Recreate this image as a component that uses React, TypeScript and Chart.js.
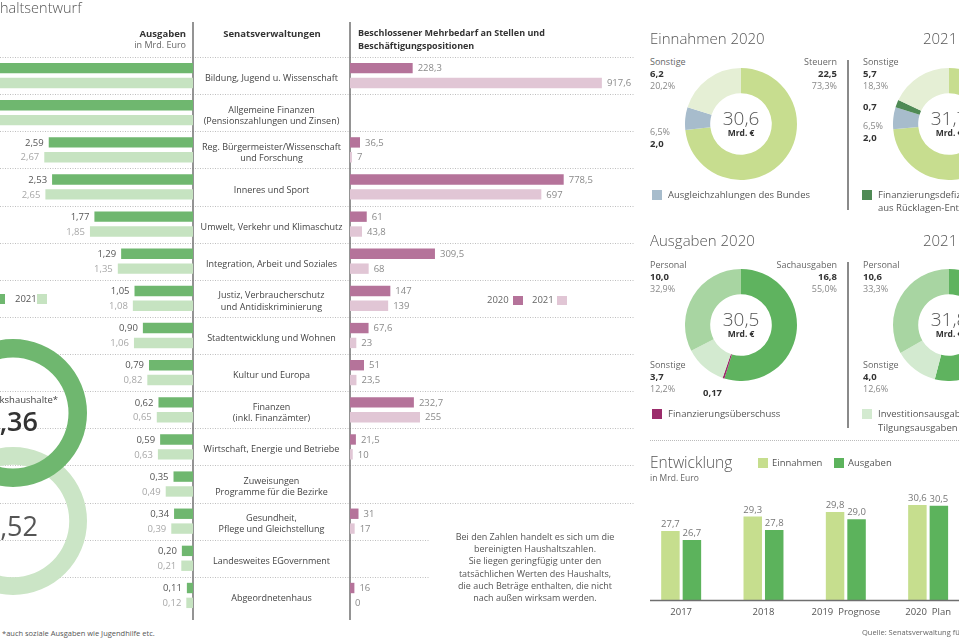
import React, { useEffect, useRef } from "react";
import { Chart, registerables } from "chart.js";

Chart.register(...registerables);

const FONT = "'Open Sans', 'Noto Sans', 'DejaVu Sans', sans-serif";

// ---------------- data ----------------
const departments = [
  ["Bildung, Jugend u. Wissenschaft"],
  ["Allgemeine Finanzen", "(Pensionszahlungen und Zinsen)"],
  ["Reg. Bürgermeister/Wissenschaft", "und Forschung"],
  ["Inneres und Sport"],
  ["Umwelt, Verkehr und Klimaschutz"],
  ["Integration, Arbeit und Soziales"],
  ["Justiz, Verbraucherschutz", "und Antidiskriminierung"],
  ["Stadtentwicklung und Wohnen"],
  ["Kultur und Europa"],
  ["Finanzen", "(inkl. Finanzämter)"],
  ["Wirtschaft, Energie und Betriebe"],
  ["Zuweisungen", "Programme für die Bezirke"],
  ["Gesundheit,", "Pflege und Gleichstellung"],
  ["Landesweites EGovernment"],
  ["Abgeordnetenhaus"],
];
const ausgaben2020 = [4.32, 3.86, 2.59, 2.53, 1.77, 1.29, 1.05, 0.9, 0.79, 0.62, 0.59, 0.35, 0.34, 0.2, 0.11];
const ausgaben2021 = [4.58, 3.95, 2.67, 2.65, 1.85, 1.35, 1.08, 1.06, 0.82, 0.65, 0.63, 0.49, 0.39, 0.21, 0.12];
const stellen2020 = [228.3, null, 36.5, 778.5, 61, 309.5, 147, 67.6, 51, 232.7, 21.5, null, 31, null, 16];
const stellen2021 = [917.6, null, 7, 697, 43.8, 68, 139, 23, 23.5, 255, 10, null, 17, null, 0];

const bezirke2020 = [9.36];
const bezirke2021 = [9.52];

const einnahmenLabels2020 = ["Steuern", "Ausgleichzahlungen des Bundes", "Sonstige"];
const einnahmen2020 = [22.5, 2.0, 6.2];
const einnahmenLabels2021 = ["Steuern", "Ausgleichzahlungen des Bundes", "Finanzierungsdefizit", "Sonstige"];
const einnahmen2021 = [23.3, 2.0, 0.7, 5.7];

const ausgabenArtLabels2020 = ["Sachausgaben", "Finanzierungsüberschuss", "Sonstige", "Personal"];
const ausgabenArt2020 = [16.8, 0.17, 3.7, 10.0];
const ausgabenArtLabels2021 = ["Sachausgaben", "Sonstige", "Personal"];
const ausgabenArt2021 = [17.2, 4.0, 10.6];

const jahre = ["2017", "2018", "2019  Prognose", "2020  Plan"];
const entwEinnahmen = [27.7, 29.3, 29.8, 30.6];
const entwAusgaben = [26.7, 27.8, 29.0, 30.5];

// ---------------- styles ----------------
const GREEN_DARK = "#6fb76f";
const GREEN_LIGHT = "#c6e3c1";
const PINK_DARK = "#b5739a";
const PINK_LIGHT = "#e1c6d5";
const RING_DARK = "#6fb76f";
const RING_LIGHT = "#cbe5c6";
const C_STEUERN = "#c7dd8f";
const C_SONST_E = "#e5efd5";
const C_AUSGLEICH = "#a7bccc";
const C_DEFIZIT = "#4f8a55";
const C_SACH = "#5fb35f";
const C_PERSONAL = "#a8d5a2";
const C_SONST_A = "#d3ead0";
const C_UEBER = "#9b2c6b";
const C_E_EIN = "#c6de8e";
const C_E_AUS = "#5cb35c";

const fmt = (v: number, d: number) => v.toFixed(d).replace(".", ",");

// main horizontal chart scale geometry (area width 635)
const AREA_W = 635;
const PX_G = 55.7;
const MAX_G = 193 / PX_G;
const MIN_G = MAX_G - AREA_W / PX_G;
const PX_P = 0.2745;
const MIN_P = -350 / PX_P;
const MAX_P = MIN_P + AREA_W / PX_P;
const NOTE_LEFT = 429;

const mainDecor = {
  id: "mainDecor",
  beforeDatasetsDraw(chart: any) {
    const { ctx, chartArea: a, scales } = chart;
    const y = scales.y;
    const n = chart.data.labels.length;
    const step = (a.bottom - a.top) / n;
    ctx.save();
    ctx.strokeStyle = "#bfbfbf";
    ctx.lineWidth = 1;
    ctx.setLineDash([1, 1.5]);
    for (let i = 0; i < n; i++) {
      const yy = Math.round(y.getPixelForValue(i) - step / 2) + 0.5;
      const right = i >= n - 2 ? NOTE_LEFT : a.right;
      ctx.beginPath();
      ctx.moveTo(a.left, yy);
      ctx.lineTo(right, yy);
      ctx.stroke();
    }
    ctx.setLineDash([]);
    ctx.strokeStyle = "#707070";
    ctx.lineWidth = 1.5;
    [scales.xG.getPixelForValue(0), scales.xP.getPixelForValue(0)].forEach((x: number) => {
      ctx.beginPath();
      ctx.moveTo(x, 22);
      ctx.lineTo(x, a.bottom + 6);
      ctx.stroke();
    });
    ctx.restore();
  },
  afterDatasetsDraw(chart: any) {
    const { ctx, scales } = chart;
    const y = scales.y;
    ctx.save();
    ctx.textBaseline = "middle";
    ctx.font = `9.5px ${FONT}`;
    const labelColors = ["#555", "#a8a8a8", "#8a8a8a", "#8a8a8a"];
    chart.data.datasets.forEach((ds: any, di: number) => {
      const meta = chart.getDatasetMeta(di);
      const green = ds.xAxisID === "xG";
      ctx.fillStyle = labelColors[di];
      ctx.textAlign = green ? "right" : "left";
      meta.data.forEach((bar: any, i: number) => {
        const v = ds.data[i];
        if (v === null || v === undefined) return;
        const { x, y: by } = bar.getProps(["x", "y"], true);
        if (green && x < 2) return;
        const text = green ? fmt(v, 2) : String(v).replace(".", ",");
        ctx.fillText(text, green ? x - 5 : x + 5, by + 0.5);
      });
    });
    const cx = (scales.xG.getPixelForValue(0) + scales.xP.getPixelForValue(0)) / 2;
    ctx.font = `9px ${FONT}`;
    ctx.fillStyle = "#444";
    ctx.textAlign = "center";
    chart.data.labels.forEach((lines: string[], i: number) => {
      const yc = y.getPixelForValue(i) + 3;
      const lh = 11.5;
      lines.forEach((t, k) => ctx.fillText(t, cx, yc + (k - (lines.length - 1) / 2) * lh));
    });
    ctx.restore();
  },
};

function makeMain() {
  return {
    type: "bar",
    data: {
      labels: departments,
      datasets: [
        { label: "2020", data: ausgaben2020, xAxisID: "xG", stack: "a", backgroundColor: GREEN_DARK },
        { label: "2021", data: ausgaben2021, xAxisID: "xG", stack: "b", backgroundColor: GREEN_LIGHT },
        { label: "2020", data: stellen2020, xAxisID: "xP", stack: "a", backgroundColor: PINK_DARK },
        { label: "2021", data: stellen2021, xAxisID: "xP", stack: "b", backgroundColor: PINK_LIGHT },
      ],
    },
    options: {
      indexAxis: "y",
      responsive: false,
      animation: false,
      events: [],
      layout: { padding: { top: 57, bottom: 11, left: 0, right: 5 } },
      datasets: { bar: { categoryPercentage: 0.8, barPercentage: 0.7, borderWidth: 0 } },
      scales: {
        y: { type: "category", display: false },
        xG: { type: "linear", axis: "x", reverse: true, min: MIN_G, max: MAX_G, display: false, stacked: false },
        xP: { type: "linear", axis: "x", min: MIN_P, max: MAX_P, display: false, stacked: false },
      },
      plugins: { legend: { display: false }, tooltip: { enabled: false } },
    },
    plugins: [mainDecor],
  };
}

function makeDoughnut(labels: string[], data: number[], colors: string[], cutout: string) {
  return () => ({
    type: "doughnut",
    data: { labels, datasets: [{ data, backgroundColor: colors, borderWidth: 0 }] },
    options: {
      responsive: false,
      animation: false,
      events: [],
      cutout,
      layout: { padding: 0 },
      plugins: { legend: { display: false }, tooltip: { enabled: false } },
    },
  });
}

const entwDecor = {
  id: "entwDecor",
  afterDatasetsDraw(chart: any) {
    const { ctx, chartArea: a, scales } = chart;
    ctx.save();
    ctx.strokeStyle = "#6f6f6f";
    ctx.lineWidth = 1.5;
    ctx.beginPath();
    ctx.moveTo(a.left + 10, a.bottom + 0.5);
    ctx.lineTo(a.right, a.bottom + 0.5);
    ctx.stroke();
    ctx.font = `9.5px ${FONT}`;
    ctx.fillStyle = "#777";
    ctx.textAlign = "center";
    ctx.textBaseline = "bottom";
    chart.data.datasets.forEach((ds: any, di: number) => {
      chart.getDatasetMeta(di).data.forEach((bar: any, i: number) => {
        const { x, y } = bar.getProps(["x", "y"], true);
        ctx.fillText(fmt(ds.data[i], 1), x, y - 2);
      });
    });
    ctx.fillStyle = "#555";
    ctx.textBaseline = "middle";
    chart.data.labels.forEach((l: string, i: number) => {
      ctx.fillText(l, scales.x.getPixelForValue(i), a.bottom + 12);
    });
    ctx.restore();
  },
};

function makeEntw() {
  return {
    type: "bar",
    data: {
      labels: jahre,
      datasets: [
        { label: "Einnahmen", data: entwEinnahmen, backgroundColor: C_E_EIN },
        { label: "Ausgaben", data: entwAusgaben, backgroundColor: C_E_AUS },
      ],
    },
    options: {
      responsive: false,
      animation: false,
      events: [],
      layout: { padding: { top: 7.5, bottom: 30, left: 0, right: 10.7 } },
      datasets: { bar: { categoryPercentage: 0.522, barPercentage: 0.86, borderWidth: 0 } },
      scales: {
        x: { type: "category", display: false },
        y: { type: "linear", min: 20, max: 37, display: false },
      },
      plugins: { legend: { display: false }, tooltip: { enabled: false } },
    },
    plugins: [entwDecor],
  };
}

// ---------------- components ----------------
function ChartBox({ left, top, width, height, make }: any) {
  const ref = useRef<HTMLCanvasElement>(null);
  useEffect(() => {
    const c = new Chart(ref.current as any, make());
    return () => c.destroy();
  }, []);
  return (
    <canvas
      ref={ref}
      width={width}
      height={height}
      style={{ position: "absolute", left, top, width, height }}
    />
  );
}

function Txt({ x, y, children, size = 9, color = "#555", weight = 400, align = "left", lh }: any) {
  const lineH = lh ?? Math.round(size * 1.3);
  const style: any = {
    position: "absolute",
    top: y - lineH / 2,
    fontSize: size,
    lineHeight: `${lineH}px`,
    color,
    fontWeight: weight,
    whiteSpace: "nowrap",
    fontFamily: FONT,
  };
  if (align === "left") style.left = x;
  else if (align === "right") style.right = 959 - x;
  else {
    style.left = x - 300;
    style.width = 600;
    style.textAlign = "center";
  }
  return <div style={style}>{children}</div>;
}

function Sq({ x, y, w = 10, h = 10, color }: any) {
  return <div style={{ position: "absolute", left: x, top: y, width: w, height: h, background: color }} />;
}

function VLine({ x, y1, y2, color = "#8a8a8a", w = 1.5 }: any) {
  return <div style={{ position: "absolute", left: x, top: y1, width: w, height: y2 - y1, background: color }} />;
}

const makeRingDark = makeDoughnut(["Bezirkshaushalte 2020"], bezirke2020, [RING_DARK], "75%");
const makeRingLight = makeDoughnut(["Bezirkshaushalte 2021"], bezirke2021, [RING_LIGHT], "76%");
const makeE2020 = makeDoughnut(einnahmenLabels2020, einnahmen2020, [C_STEUERN, C_AUSGLEICH, C_SONST_E], "55%");
const makeE2021 = makeDoughnut(einnahmenLabels2021, einnahmen2021, [C_STEUERN, C_AUSGLEICH, C_DEFIZIT, C_SONST_E], "55%");
const makeA2020 = makeDoughnut(ausgabenArtLabels2020, ausgabenArt2020, [C_SACH, C_UEBER, C_SONST_A, C_PERSONAL], "55%");
const makeA2021 = makeDoughnut(ausgabenArtLabels2021, ausgabenArt2021, [C_SACH, C_SONST_A, C_PERSONAL], "55%");

function DonutLabels({ x, y, name, value, pct, align = "left" }: any) {
  return (
    <>
      <Txt x={x} y={y} size={9} color="#666" align={align}>{name}</Txt>
      <Txt x={x} y={y + 12} size={9.5} color="#333" weight={700} align={align}>{value}</Txt>
      <Txt x={x} y={y + 24} size={9} color="#888" align={align}>{pct}</Txt>
    </>
  );
}

export default function App() {
  return (
    <div
      style={{
        position: "fixed",
        left: 0,
        top: 0,
        width: 959,
        height: 639,
        overflow: "hidden",
        background: "#fff",
        fontFamily: FONT,
      }}
    >
      {/* left / middle: departments */}
      <ChartBox left={0} top={0} width={640} height={625} make={makeMain} />
      <ChartBox left={-61} top={447} width={148} height={148} make={makeRingLight} />
      <ChartBox left={-61} top={339} width={148} height={148} make={makeRingDark} />
      <Txt x={58} y={400} size={9.5} color="#444" align="right">Bezirkshaushalte*</Txt>
      <Txt x={38} y={421} size={27} weight={600} color="#333" align="right" lh={32}>9,36</Txt>
      <Txt x={38} y={526} size={27} weight={400} color="#555" align="right" lh={32}>9,52</Txt>

      <Txt x={0} y={8} size={14.5} weight={300} color="#555" lh={18}>haltsentwurf</Txt>
      <Txt x={186} y={34} size={9.5} weight={700} color="#333" align="right">Ausgaben</Txt>
      <Txt x={186} y={45} size={9} color="#666" align="right">in Mrd. Euro</Txt>
      <Txt x={272} y={34} size={9.5} weight={700} color="#333" align="center">Senatsverwaltungen</Txt>
      <Txt x={358} y={33} size={9} weight={700} color="#333">Beschlossener Mehrbedarf an Stellen und</Txt>
      <Txt x={358} y={46} size={9} weight={700} color="#333">Beschäftigungspositionen</Txt>

      <Sq x={-5} y={294} color={GREEN_DARK} />
      <Txt x={15} y={299} size={9.5} color="#555">2021</Txt>
      <Sq x={37} y={294} color={GREEN_LIGHT} />

      <Txt x={487} y={300} size={9.5} color="#666">2020</Txt>
      <Sq x={513} y={296} w={10} h={9} color={PINK_DARK} />
      <Txt x={532} y={300} size={9.5} color="#666">2021</Txt>
      <Sq x={557} y={296} w={10} h={9} color={PINK_LIGHT} />

      {[
        "Bei den Zahlen handelt es sich um die",
        "bereinigten Haushaltszahlen.",
        "Sie liegen geringfügig unter den",
        "tatsächlichen Werten des Haushalts,",
        "die auch Beträge enthalten, die nicht",
        "nach außen wirksam werden.",
      ].map((t, i) => (
        <Txt key={i} x={535} y={537 + i * 12.2} size={9} color="#555" align="center">{t}</Txt>
      ))}
      <Txt x={2} y={633} size={7.5} color="#555">*auch soziale Ausgaben wie Jugendhilfe etc.</Txt>

      {/* right: Einnahmen */}
      <Txt x={650} y={38} size={15} weight={300} color="#555" lh={20}>Einnahmen 2020</Txt>
      <Txt x={923} y={38} size={15} weight={300} color="#555" lh={20}>2021</Txt>
      <ChartBox left={685} top={68} width={112} height={112} make={makeE2020} />
      <ChartBox left={893} top={68} width={112} height={112} make={makeE2021} />
      <Txt x={741} y={118} size={19} weight={300} color="#555" align="center" lh={22}>30,6</Txt>
      <Txt x={741} y={132} size={8.5} weight={700} color="#333" align="center">Mrd. €</Txt>
      <Txt x={949} y={118} size={19} weight={300} color="#555" align="center" lh={22}>31,7</Txt>
      <Txt x={949} y={132} size={8.5} weight={700} color="#333" align="center">Mrd. €</Txt>
      <DonutLabels x={650} y={62} name="Sonstige" value="6,2" pct="20,2%" />
      <DonutLabels x={837} y={62} name="Steuern" value="22,5" pct="73,3%" align="right" />
      <Txt x={650} y={132} size={9} color="#888">6,5%</Txt>
      <Txt x={650} y={144} size={9.5} weight={700} color="#333">2,0</Txt>
      <Sq x={652} y={190} color={C_AUSGLEICH} />
      <Txt x={668} y={195} size={9.5} color="#555">Ausgleichzahlungen des Bundes</Txt>
      <VLine x={847} y1={60} y2={210} />
      <DonutLabels x={863} y={62} name="Sonstige" value="5,7" pct="18,3%" />
      <Txt x={863} y={107} size={9.5} weight={700} color="#333">0,7</Txt>
      <Txt x={863} y={126} size={9} color="#888">6,5%</Txt>
      <Txt x={863} y={138} size={9.5} weight={700} color="#333">2,0</Txt>
      <Sq x={862} y={190} color={C_DEFIZIT} />
      <Txt x={878} y={195} size={9.5} color="#555">Finanzierungsdefizit</Txt>
      <Txt x={878} y={208} size={9.5} color="#555">aus Rücklagen-Entnahme</Txt>

      {/* right: Ausgaben */}
      <Txt x={650} y={240} size={15} weight={300} color="#555" lh={20}>Ausgaben  2020</Txt>
      <Txt x={923} y={240} size={15} weight={300} color="#555" lh={20}>2021</Txt>
      <ChartBox left={685} top={269} width={112} height={112} make={makeA2020} />
      <ChartBox left={893} top={269} width={112} height={112} make={makeA2021} />
      <Txt x={741} y={319} size={19} weight={300} color="#555" align="center" lh={22}>30,5</Txt>
      <Txt x={741} y={333} size={8.5} weight={700} color="#333" align="center">Mrd. €</Txt>
      <Txt x={949} y={319} size={19} weight={300} color="#555" align="center" lh={22}>31,8</Txt>
      <Txt x={949} y={333} size={8.5} weight={700} color="#333" align="center">Mrd. €</Txt>
      <DonutLabels x={650} y={265} name="Personal" value="10,0" pct="32,9%" />
      <DonutLabels x={837} y={265} name="Sachausgaben" value="16,8" pct="55,0%" align="right" />
      <DonutLabels x={650} y={365} name="Sonstige" value="3,7" pct="12,2%" />
      <Txt x={703} y={393} size={9.5} weight={700} color="#333">0,17</Txt>
      <Sq x={652} y={409} color={C_UEBER} />
      <Txt x={668} y={414} size={9.5} color="#555">Finanzierungsüberschuss</Txt>
      <VLine x={847} y1={262} y2={428} />
      <DonutLabels x={863} y={265} name="Personal" value="10,6" pct="33,3%" />
      <DonutLabels x={863} y={365} name="Sonstige" value="4,0" pct="12,6%" />
      <Sq x={862} y={409} color={C_SONST_A} />
      <Txt x={878} y={414} size={9.5} color="#555">Investitionsausgaben und</Txt>
      <Txt x={878} y={428} size={9.5} color="#555">Tilgungsausgaben Berlin</Txt>

      <div style={{ position: "absolute", left: 650, top: 440, width: 309, borderTop: "1px dotted #bbb" }} />

      {/* Entwicklung */}
      <Txt x={650} y={462} size={15.5} weight={300} color="#555" lh={22}>Entwicklung</Txt>
      <Txt x={650} y={477} size={8.5} color="#666">in Mrd. Euro</Txt>
      <Sq x={758} y={458} color={C_E_EIN} />
      <Txt x={772} y={463} size={9.5} color="#555">Einnahmen</Txt>
      <Sq x={834} y={458} color={C_E_AUS} />
      <Txt x={848} y={463} size={9.5} color="#555">Ausgaben</Txt>
      <ChartBox left={640} top={440} width={340} height={190} make={makeEntw} />
      <Txt x={862} y={632} size={7.5} color="#666">Quelle: Senatsverwaltung für Finanzen</Txt>
    </div>
  );
}
